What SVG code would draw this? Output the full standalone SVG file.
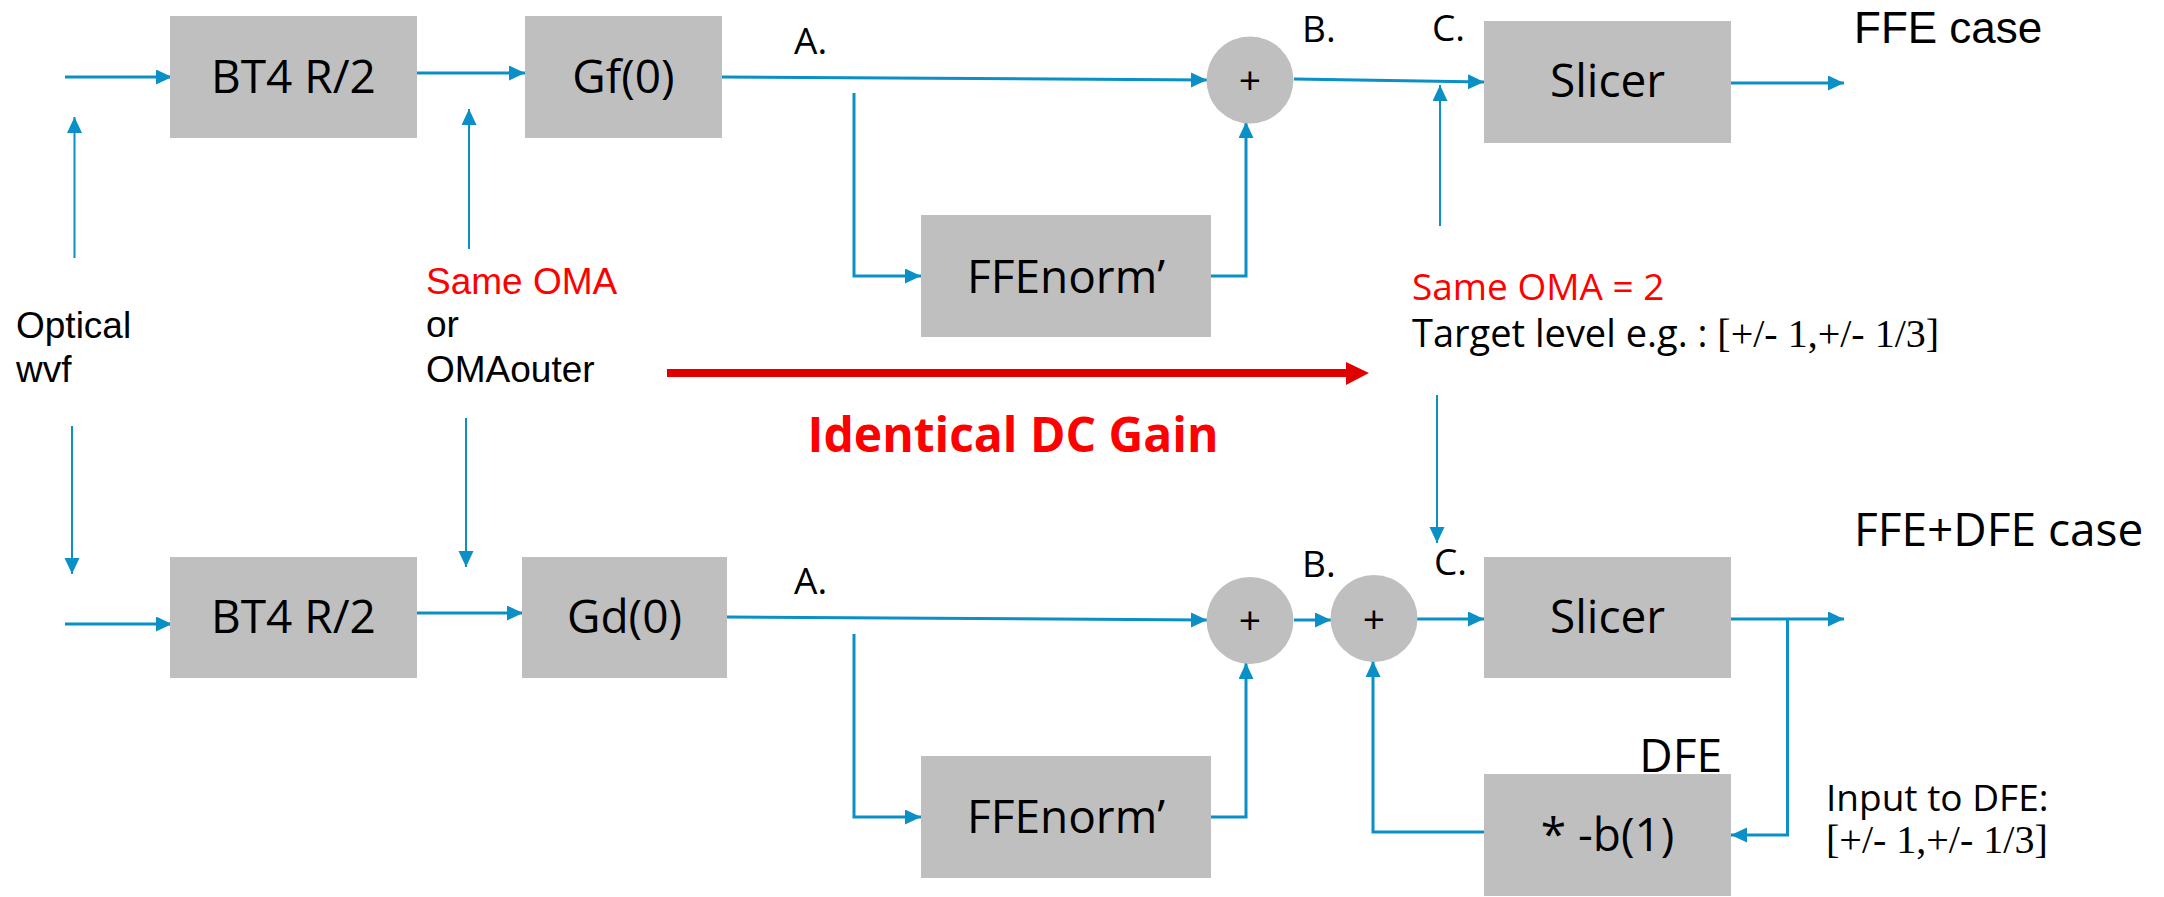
<svg xmlns="http://www.w3.org/2000/svg" width="2164" height="897" viewBox="0 0 2164 897">
<defs>
<style>
.box{fill:#bfbfbf;}
.t{font-family:"Open Sans","Noto Sans","Liberation Sans",sans-serif;fill:#000;}
.a{font-family:"Liberation Sans","Arimo",sans-serif;fill:#000;}
.big{font-size:46px;}
.mid{font-size:37px;}
.plus{font-size:39px;}
.red{fill:#ff0000;}
.math{font-family:"Liberation Serif","DejaVu Serif",serif;font-size:40px;}
.c{fill:none;stroke:#0a8fc6;stroke-width:3;}
.thin{stroke-width:2;}
</style>
<marker id="ah" markerUnits="userSpaceOnUse" markerWidth="17" markerHeight="16" refX="16" refY="7.5" orient="auto">
<path d="M0,0 L16,7.5 L0,15 z" fill="#0a8fc6"/>
</marker>
</defs>
<rect width="2164" height="897" fill="#fff"/>

<g id="connectors">
<path class="c" d="M65,77 H172" marker-end="url(#ah)"/>
<path class="c" d="M414,73 H525" marker-end="url(#ah)"/>
<path class="c" d="M722,77 L1207,80" marker-end="url(#ah)"/>
<path class="c" d="M854,93 V276 H921" marker-end="url(#ah)"/>
<path class="c" d="M1211,276 H1246 V122" marker-end="url(#ah)"/>
<path class="c" d="M1294,79 L1484,82" marker-end="url(#ah)"/>
<path class="c" d="M1731,83 H1844" marker-end="url(#ah)"/>
<path class="c thin" d="M74.5,258 V117" marker-end="url(#ah)"/>
<path class="c thin" d="M469,249 V109" marker-end="url(#ah)"/>
<path class="c thin" d="M1440,226 V85" marker-end="url(#ah)"/>
<path class="c thin" d="M72,426 V574" marker-end="url(#ah)"/>
<path class="c thin" d="M466,418 V567" marker-end="url(#ah)"/>
<path class="c thin" d="M1437,395 V543" marker-end="url(#ah)"/>
<path class="c" d="M65,624 H172" marker-end="url(#ah)"/>
<path class="c" d="M415,613 H523" marker-end="url(#ah)"/>
<path class="c" d="M727,617 L1207,620" marker-end="url(#ah)"/>
<path class="c" d="M1294,620 H1331" marker-end="url(#ah)"/>
<path class="c" d="M1417,619 H1484" marker-end="url(#ah)"/>
<path class="c" d="M1731,619 H1844" marker-end="url(#ah)"/>
<path class="c" d="M1787.5,619 V835 H1731" marker-end="url(#ah)"/>
<path class="c" d="M1484,832 H1373 V661" marker-end="url(#ah)"/>
<path class="c" d="M854,634 V817 H921" marker-end="url(#ah)"/>
<path class="c" d="M1211,817 H1246 V663" marker-end="url(#ah)"/>
<g id="dc-gain-arrow">
<path d="M667,373 H1347" fill="none" stroke="#e00000" stroke-width="8"/>
<polygon points="1346,362 1369,373 1346,385" fill="#e00000"/>
</g>
</g>

<g id="bt4-top"><rect class="box" x="170" y="16" width="247" height="122"/><text class="t big" x="293.5" y="93" text-anchor="middle">BT4 R/2</text></g>
<g id="gf0"><rect class="box" x="525" y="16" width="197" height="122"/><text class="t big" x="623.5" y="93" text-anchor="middle">Gf(0)</text></g>
<g id="ffenorm-top"><rect class="box" x="921" y="215" width="290" height="122"/><text class="t big" x="1066" y="293" text-anchor="middle">FFEnorm’</text></g>
<g id="sum-top"><circle class="box" cx="1250" cy="80" r="43.5"/><text class="t plus" x="1250" y="93.5" text-anchor="middle">+</text></g>
<g id="slicer-top"><rect class="box" x="1484" y="21" width="247" height="122"/><text class="t big" x="1607.5" y="97" text-anchor="middle">Slicer</text></g>

<g id="bt4-bottom"><rect class="box" x="170" y="557" width="247" height="121"/><text class="t big" x="293.5" y="633" text-anchor="middle">BT4 R/2</text></g>
<g id="gd0"><rect class="box" x="522" y="557" width="205" height="121"/><text class="t big" x="624.5" y="633" text-anchor="middle">Gd(0)</text></g>
<g id="ffenorm-bottom"><rect class="box" x="921" y="756" width="290" height="122"/><text class="t big" x="1066" y="833" text-anchor="middle">FFEnorm’</text></g>
<g id="sum-bottom-1"><circle class="box" cx="1250" cy="620.5" r="43.5"/><text class="t plus" x="1250" y="634" text-anchor="middle">+</text></g>
<g id="sum-bottom-2"><circle class="box" cx="1374" cy="618.5" r="43.5"/><text class="t plus" x="1374" y="633" text-anchor="middle">+</text></g>
<g id="slicer-bottom"><rect class="box" x="1484" y="557" width="247" height="121"/><text class="t big" x="1607.5" y="633" text-anchor="middle">Slicer</text></g>
<g id="dfe"><rect class="box" x="1484" y="774" width="247" height="122"/><text class="t big" x="1607.5" y="851" text-anchor="middle">* -b(1)</text><text class="t big" x="1722" y="772" text-anchor="end">DFE</text></g>

<g id="labels">
<text class="t mid" x="794" y="54">A.</text>
<text class="t mid" x="1302" y="42">B.</text>
<text class="t mid" x="1432" y="41">C.</text>
<text class="a" style="font-size:44px" x="1854" y="43">FFE case</text>
<text class="t mid" x="794" y="594">A.</text>
<text class="t mid" x="1302" y="577">B.</text>
<text class="t mid" x="1434" y="575">C.</text>
<text class="t big" x="1854" y="546">FFE+DFE case</text>
<text class="a mid" x="16" y="338">Optical</text>
<text class="a mid" x="16" y="382">wvf</text>
<text class="a mid red" x="426" y="294">Same OMA</text>
<text class="a mid" x="426" y="337">or</text>
<text class="a mid" x="426" y="382">OMAouter</text>
<text class="t mid red" x="1412" y="300">Same OMA = 2</text>
<text class="t" style="font-size:38px" x="1412" y="347">Target level e.g. : <tspan class="math">[+/- 1,+/- 1/3]</tspan></text>
<text class="t red" style="font-size:48px;font-weight:bold" x="1013" y="452" text-anchor="middle">Identical DC Gain</text>
<text class="t mid" x="1826" y="811">Input to DFE:</text>
<text class="math" x="1826" y="853">[+/- 1,+/- 1/3]</text>
</g>
</svg>
